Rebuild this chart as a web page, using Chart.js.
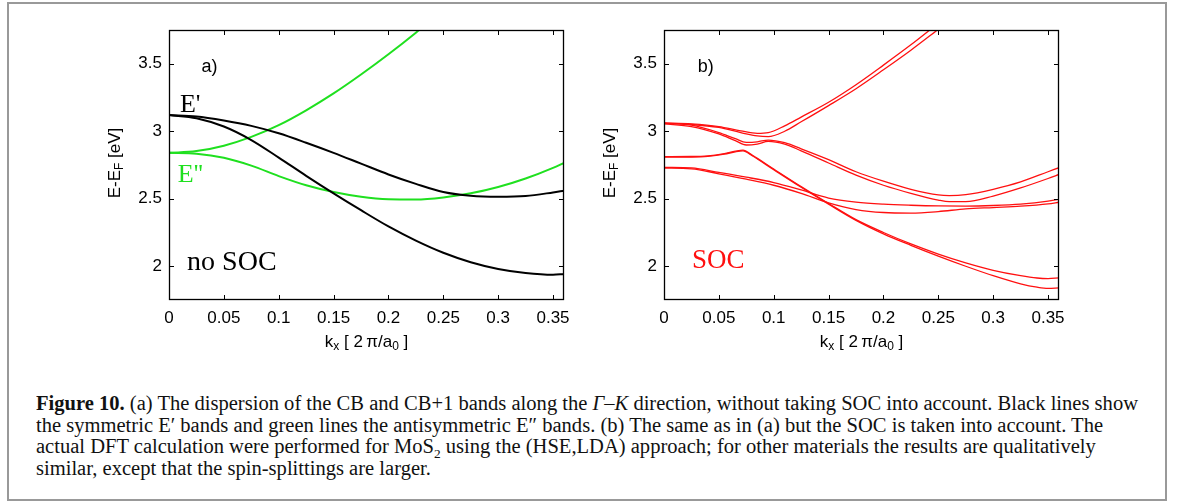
<!DOCTYPE html>
<html>
<head>
<meta charset="utf-8">
<script src="https://cdn.jsdelivr.net/npm/chart.js@4.4.0/dist/chart.umd.min.js"></script>
<style>
body { margin:0; background:#fff; width:1182px; height:502px; overflow:hidden; position:relative; }
#frame { position:absolute; left:7px; top:2px; width:1156px; height:495px; border:2px solid #999; }
canvas { position:absolute; top:0; }
#cap { position:absolute; left:36px; top:393px; font-family:"Liberation Serif", serif; font-size:20px; line-height:21.5px; color:#111; transform-origin:0 0; }
#cap span { white-space:nowrap; }
</style>
</head>
<body>
<div id="frame"></div>
<canvas id="plotA" width="590" height="365" style="left:0px"></canvas>
<canvas id="plotB" width="500" height="365" style="left:590px"></canvas>
<div id="cap">
<div><span><b>Figure 10.</b> (a) The dispersion of the CB and CB+1 bands along the <i>Γ</i>–<i>K</i> direction, without taking SOC into account. Black lines show</span></div>
<div><span>the symmetric E′ bands and green lines the antisymmetric E″ bands. (b) The same as in (a) but the SOC is taken into account. The</span></div>
<div><span>actual DFT calculation were performed for MoS<sub style="font-size:13px;line-height:0">2</sub> using the (HSE,LDA) approach; for other materials the results are qualitatively</span></div>
<div><span>similar, except that the spin-splittings are larger.</span></div>
</div>
<script>
// a) without SOC
var kA = [0, 0.025, 0.05, 0.075, 0.1, 0.125, 0.15, 0.175, 0.2, 0.225, 0.25, 0.275, 0.3, 0.325, 0.35, 0.36];
var ePrimeUp  = [3.12, 3.11, 3.08, 3.04, 2.985, 2.915, 2.84, 2.76, 2.68, 2.61, 2.55, 2.522, 2.515, 2.52, 2.547, 2.56];
var ePrimeLow = [3.12, 3.097, 3.035, 2.935, 2.805, 2.67, 2.54, 2.415, 2.295, 2.19, 2.10, 2.03, 1.98, 1.95, 1.937, 1.943];
var eDblLow   = [2.84, 2.833, 2.803, 2.745, 2.668, 2.60, 2.55, 2.515, 2.497, 2.495, 2.51, 2.54, 2.587, 2.65, 2.729, 2.766];
var kUp = [0, 0.025, 0.05, 0.075, 0.1, 0.125, 0.15, 0.175, 0.2, 0.225, 0.25];
var eDblUp = [2.84, 2.853, 2.893, 2.958, 3.045, 3.155, 3.28, 3.42, 3.57, 3.73, 3.9];

// b) with SOC, every band is a close pair
var kB1 = [0, 0.025, 0.05, 0.07, 0.085, 0.095, 0.11, 0.125, 0.15, 0.175, 0.2, 0.225, 0.25];
var socA1 = [3.062, 3.055, 3.035, 3.003, 2.985, 2.99, 3.04, 3.105, 3.215, 3.345, 3.49, 3.64, 3.8];
var socA2 = [3.058, 3.05, 3.028, 2.99, 2.965, 2.96, 3.0, 3.07, 3.19, 3.315, 3.455, 3.60, 3.755];
var kB2 = [0, 0.025, 0.05, 0.065, 0.075, 0.085, 0.095, 0.11, 0.125, 0.15, 0.175, 0.2, 0.225, 0.25, 0.26, 0.275, 0.3, 0.325, 0.35, 0.36];
var socB1 = [3.06, 3.045, 2.99, 2.945, 2.918, 2.922, 2.935, 2.915, 2.87, 2.79, 2.70, 2.63, 2.57, 2.528, 2.523, 2.53, 2.57, 2.625, 2.70, 2.73];
var socB2 = [3.055, 3.035, 2.98, 2.93, 2.898, 2.905, 2.925, 2.905, 2.855, 2.765, 2.675, 2.60, 2.54, 2.49, 2.478, 2.479, 2.52, 2.58, 2.65, 2.68];
var kB3 = [0, 0.025, 0.04, 0.055, 0.065, 0.072, 0.08, 0.1, 0.125, 0.15, 0.175, 0.2, 0.225, 0.25, 0.275, 0.3, 0.325, 0.34, 0.35, 0.36];
var socC1 = [2.812, 2.813, 2.818, 2.835, 2.852, 2.86, 2.825, 2.72, 2.59, 2.465, 2.345, 2.25, 2.165, 2.09, 2.025, 1.97, 1.93, 1.913, 1.909, 1.914];
var socC2 = [2.808, 2.809, 2.814, 2.83, 2.848, 2.855, 2.82, 2.715, 2.585, 2.46, 2.34, 2.24, 2.155, 2.075, 2.0, 1.93, 1.87, 1.845, 1.836, 1.84];
var socD1 = [2.733, 2.728, 2.695, 2.66, 2.62, 2.565, 2.505, 2.475, 2.46, 2.452, 2.447, 2.446, 2.45, 2.46, 2.482, 2.496];
var socD2 = [2.727, 2.722, 2.685, 2.645, 2.60, 2.54, 2.47, 2.42, 2.398, 2.394, 2.405, 2.425, 2.435, 2.445, 2.462, 2.474];

var kTicks = [0, 0.05, 0.1, 0.15, 0.2, 0.25, 0.3, 0.35];
var eTicks = [2, 2.5, 3, 3.5];

function pts(k, e) {
    return k.map((v, i) => ({x: v, y: e[i]}));
}
function band(k, e, color, width) {
    return {data: pts(k, e), borderColor: color, borderWidth: width, pointRadius: 0,
        cubicInterpolationMode: 'monotone', fill: false};
}

function drawParts(ctx, parts, cx, cy, size) {
    var sub = Math.round(size * 0.72);
    var total = 0;
    parts.forEach(p => {
        ctx.font = (p[1] ? sub : size) + 'px "Liberation Sans"';
        total += ctx.measureText(p[0]).width;
    });
    var x = cx - total / 2;
    parts.forEach(p => {
        ctx.font = (p[1] ? sub : size) + 'px "Liberation Sans"';
        ctx.fillText(p[0], x, cy + (p[1] ? size * 0.3 : 0));
        x += ctx.measureText(p[0]).width;
    });
}

// frame with inward ticks on all four sides, axis titles and the panel texts
var frame = {
    id: 'frame',
    afterDatasetsDraw(chart, args, opts) {
        var ctx = chart.ctx, a = chart.chartArea;
        var sx = chart.scales.x, sy = chart.scales.y;
        ctx.save();
        ctx.strokeStyle = '#000';
        ctx.lineWidth = 1;
        ctx.beginPath();
        kTicks.forEach(v => {
            var p = Math.round(sx.getPixelForValue(v)) + 0.5;
            ctx.moveTo(p, a.bottom); ctx.lineTo(p, a.bottom - 5);
            ctx.moveTo(p, a.top); ctx.lineTo(p, a.top + 5);
        });
        eTicks.forEach(v => {
            var p = Math.round(sy.getPixelForValue(v)) + 0.5;
            ctx.moveTo(a.left, p); ctx.lineTo(a.left + 5, p);
            ctx.moveTo(a.right, p); ctx.lineTo(a.right - 5, p);
        });
        ctx.stroke();
        ctx.lineWidth = 1.3;
        ctx.strokeRect(Math.round(a.left) + 0.5, Math.round(a.top) + 0.5, Math.round(a.width) - 1, Math.round(a.height) - 1);

        ctx.fillStyle = '#000';
        ctx.textBaseline = 'middle';
        drawParts(ctx, [['k', 0], ['x', 1], [' [ 2\u2009\u03c0/a', 0], ['0', 1], [' ]', 0]], (a.left + a.right) / 2, a.bottom + 42, 17);
        ctx.save();
        ctx.translate(a.left - 54, (a.top + a.bottom) / 2 - 2);
        ctx.rotate(-Math.PI / 2);
        drawParts(ctx, [['E-E', 0], ['F', 1], [' [eV]', 0]], 0, 0, 17);
        ctx.restore();

        ctx.textBaseline = 'alphabetic';
        opts.notes.forEach(n => {
            ctx.font = n.font;
            ctx.fillStyle = n.color;
            ctx.textAlign = n.align || 'left';
            ctx.fillText(n.text, sx.getPixelForValue(n.x), sy.getPixelForValue(n.y));
        });
        ctx.restore();
    }
};

function makeChart(id, datasets, pad, yWidth, notes) {
    return new Chart(document.getElementById(id), {
        type: 'line',
        data: {datasets: datasets},
        options: {
            responsive: false,
            animation: false,
            layout: {padding: pad},
            elements: {line: {capBezierPoints: false}},
            plugins: {legend: {display: false}, tooltip: {enabled: false}, frame: {notes: notes}},
            scales: {
                x: {
                    type: 'linear', min: 0, max: 0.36,
                    grid: {display: false, drawTicks: false},
                    border: {display: false},
                    afterFit: s => { s.height = 65; },
                    afterBuildTicks: s => { s.ticks = kTicks.map(v => ({value: v})); },
                    ticks: {padding: 8, color: '#000', maxRotation: 0, autoSkip: false,
                        font: {family: 'Liberation Sans', size: 17},
                        callback: v => String(+v.toFixed(2))}
                },
                y: {
                    type: 'linear', min: 1.75, max: 3.75,
                    grid: {display: false, drawTicks: false},
                    border: {display: false},
                    afterFit: s => { s.width = yWidth; },
                    afterBuildTicks: s => { s.ticks = eTicks.map(v => ({value: v})); },
                    ticks: {padding: 7, color: '#000', autoSkip: false,
                        font: {family: 'Liberation Sans', size: 17},
                        callback: v => String(v)}
                }
            }
        },
        plugins: [frame]
    });
}

var black = '#000000', green = '#1fe01f', red = '#ff1010';
makeChart('plotA', [
    band(kA, ePrimeUp, black, 2),
    band(kA, ePrimeLow, black, 2),
    band(kUp, eDblUp, green, 2),
    band(kA, eDblLow, green, 2)
], {left: 0, top: 30, right: 26, bottom: 0}, 169, [
    {text: 'a)', x: 0.037, y: 3.44, font: '18px "Liberation Sans"', color: '#000', align: 'center'},
    {text: "E'", x: 0.01, y: 3.14, font: '26px "Liberation Serif"', color: '#000'},
    {text: "E''", x: 0.008, y: 2.625, font: '26px "Liberation Serif"', color: green},
    {text: 'no SOC', x: 0.0165, y: 1.975, font: '28px "Liberation Serif"', color: '#000'}
]);
makeChart('plotB', [
    band(kB1, socA1, red, 1.3),
    band(kB1, socA2, red, 1.3),
    band(kB2, socB1, red, 1.3),
    band(kB2, socB2, red, 1.3),
    band(kB3, socC1, red, 1.3),
    band(kB3, socC2, red, 1.3),
    band(kA, socD1, red, 1.3),
    band(kA, socD2, red, 1.3)
], {left: 0, top: 30, right: 31, bottom: 0}, 74, [
    {text: 'b)', x: 0.038, y: 3.44, font: '18px "Liberation Sans"', color: '#000', align: 'center'},
    {text: 'SOC', x: 0.0255, y: 1.99, font: '27px "Liberation Serif"', color: red}
]);

// stretch the caption so the first line spans like the original
var cap = document.getElementById('cap');
var w = cap.querySelector('span').getBoundingClientRect().width;
cap.style.transform = 'scaleX(' + (1102 / w) + ')';
</script>
</body>
</html>
